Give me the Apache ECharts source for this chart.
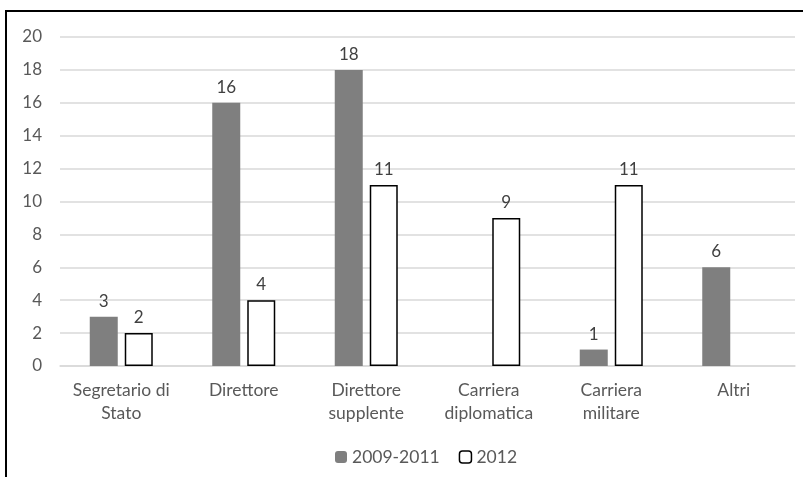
<!DOCTYPE html>
<html>
<head>
<meta charset="utf-8">
<script src="https://cdn.jsdelivr.net/npm/echarts@6/dist/echarts.min.js"></script>
<style>
html,body{margin:0;padding:0;background:#fff;}
#frame{position:absolute;left:5px;top:10px;width:798px;height:467px;border-top:2px solid #000;border-left:2px solid #000;box-sizing:border-box;}
#chart{position:absolute;left:0;top:0;width:803px;height:477px;}
</style>
</head>
<body>
<div id="frame"></div>
<div id="chart"></div>
<script>
var categories = ['Segretario di\nStato', 'Direttore', 'Direttore\nsupplente', 'Carriera\ndiplomatica', 'Carriera\nmilitare', 'Altri'];
var seriesNames = ['2009-2011', '2012'];
var values2009_2011 = [3, 16, 18, null, 1, 6];
var values2012 = [2, 4, 11, 9, 11, null];
var yTicks = {min: 0, max: 20, interval: 2};

var font = 'Lato, "Open Sans", sans-serif';
var chart = echarts.init(document.getElementById('chart'));
chart.setOption({
  animation: false,
  textStyle: {fontFamily: font},
  grid: {left: 60, right: 8, top: 37, bottom: 111},
  legend: {
    bottom: 6, left: 330,
    itemWidth: 12, itemHeight: 12, itemGap: 19,
    textStyle: {fontFamily: font, fontSize: 17.5, color: '#595959'},
    data: [
      {name: seriesNames[0], itemStyle: {color: '#7f7f7f', borderWidth: 0}},
      {name: seriesNames[1], itemStyle: {color: '#ffffff', borderColor: '#000', borderWidth: 1.5}}
    ]
  },
  xAxis: {
    type: 'category',
    data: categories,
    axisTick: {show: false},
    axisLine: {lineStyle: {color: '#d9d9d9', width: 1.5}},
    axisLabel: {fontFamily: font, fontSize: 17.5, color: '#595959', margin: 13, lineHeight: 23, interval: 0}
  },
  yAxis: {
    type: 'value',
    min: yTicks.min, max: yTicks.max, interval: yTicks.interval,
    axisLine: {show: false},
    axisTick: {show: false},
    splitLine: {lineStyle: {color: '#d9d9d9', width: 1.5}},
    axisLabel: {fontFamily: font, fontSize: 17, color: '#595959', margin: 18}
  },
  series: [
    {
      name: seriesNames[0], type: 'bar', data: values2009_2011,
      barWidth: 28, barGap: '25%',
      itemStyle: {color: '#7f7f7f'},
      label: {show: true, position: 'top', distance: 7, fontFamily: font, fontSize: 17, color: '#404040'}
    },
    {
      name: seriesNames[1], type: 'bar', data: values2012,
      barWidth: 28,
      itemStyle: {color: '#ffffff', borderColor: '#000', borderWidth: 1.5},
      label: {show: true, position: 'top', distance: 7, fontFamily: font, fontSize: 17, color: '#404040'}
    }
  ]
});
</script>
</body>
</html>
